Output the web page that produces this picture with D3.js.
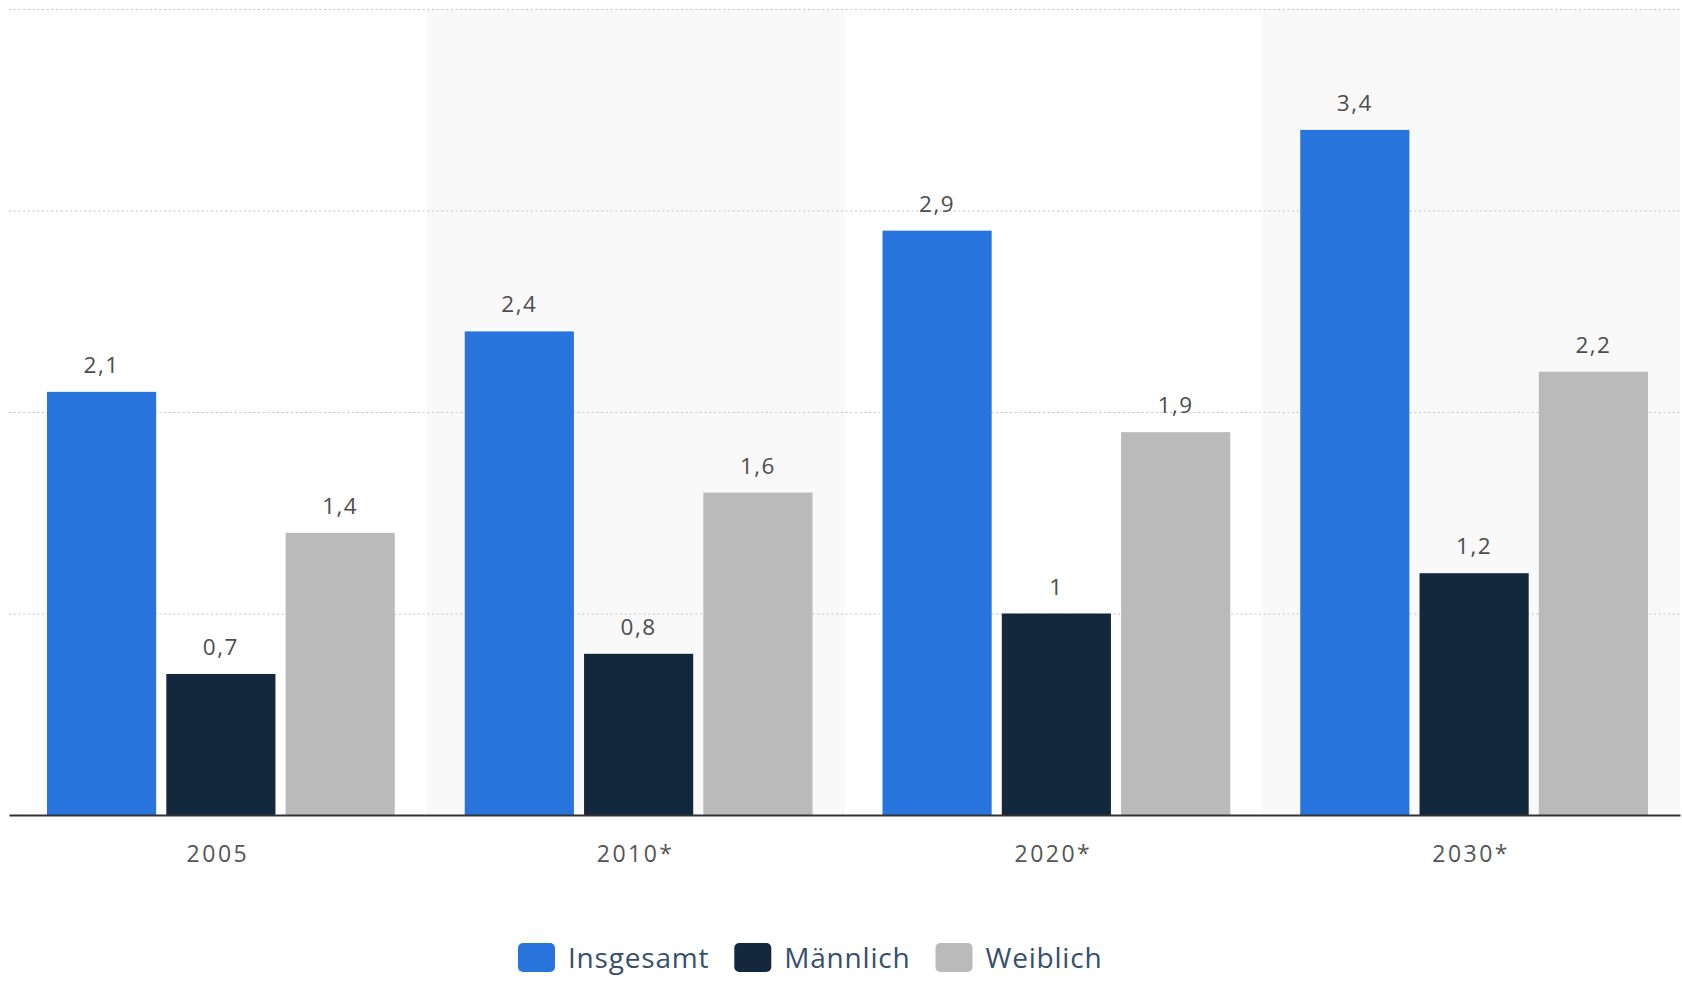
<!DOCTYPE html>
<html>
<head>
<meta charset="utf-8">
<script src="https://cdn.jsdelivr.net/npm/d3@7"></script>
<style>
  body { margin: 0; background: #fff; }
  svg text { font-family: "Open Sans", sans-serif; }
</style>
</head>
<body>
<div id="chart"></div>
<script>
var years = ["2005", "2010*", "2020*", "2030*"];
var seriesNames = ["Insgesamt", "Männlich", "Weiblich"];
var insgesamt = [2.1, 2.4, 2.9, 3.4];
var maennlich = [0.7, 0.8, 1.0, 1.2];
var weiblich = [1.4, 1.6, 1.9, 2.2];
var yTicks = [0, 1, 2, 3, 4];
var colors = ["#2874dd", "#14283d", "#bababa"];

var width = 1682, height = 981;
var plotLeft = 9, plotRight = 1680, baseY = 815, topY = 9;

var data = years.map(function(yr, i) {
    return { year: yr, values: [insgesamt[i], maennlich[i], weiblich[i]] };
});

var svg = d3.select("#chart")
            .append("svg")
            .attr("width", width)
            .attr("height", height);

var x0 = d3.scaleBand().domain(years).range([plotLeft, plotRight]).padding(0);
var x1 = d3.scaleBand().domain(seriesNames).range([38, x0.bandwidth() - 32]).paddingInner(0.085);
var y = d3.scaleLinear().domain([0, 4]).range([baseY, topY]);

// alternating shaded bands
svg.selectAll(".band")
    .data(years.filter(function(d, i) { return i % 2 == 1; }))
    .enter()
    .append("rect")
    .attr("x", function(d) { return x0(d); })
    .attr("y", y(4))
    .attr("width", x0.bandwidth())
    .attr("height", baseY - y(4))
    .attr("fill", "#f9f9f9");

// dotted gridlines
svg.append("g")
    .attr("transform", "translate(" + plotLeft + ",0)")
    .call(d3.axisLeft(y).tickValues(yTicks.slice(1)).tickSize(-(plotRight - plotLeft)).tickFormat(""))
    .call(function(g) { g.select(".domain").remove(); })
    .selectAll("line")
    .attr("stroke", "#c4c4c4")
    .attr("stroke-width", 1.2)
    .attr("stroke-dasharray", "2,2.7");

var groups = svg.selectAll(".grp")
    .data(data)
    .enter()
    .append("g")
    .attr("transform", function(d) { return "translate(" + x0(d.year) + ",0)"; });

groups.selectAll("rect")
    .data(function(d) { return d.values.map(function(v, i) { return { name: seriesNames[i], value: v, i: i }; }); })
    .enter()
    .append("rect")
    .attr("x", function(d) { return x1(d.name); })
    .attr("y", function(d) { return y(d.value); })
    .attr("width", x1.bandwidth())
    .attr("height", function(d) { return baseY - y(d.value); })
    .attr("fill", function(d) { return colors[d.i]; });

var fmt = function(v) { return String(v).replace(".", ","); };

groups.selectAll(".val")
    .data(function(d) { return d.values.map(function(v, i) { return { name: seriesNames[i], value: v }; }); })
    .enter()
    .append("text")
    .attr("class", "val")
    .attr("x", function(d) { return x1(d.name) + x1.bandwidth() / 2; })
    .attr("y", function(d) { return y(d.value) - 19; })
    .attr("text-anchor", "middle")
    .attr("font-size", "22.5px")
    .attr("letter-spacing", "1.5px")
    .attr("fill", "#4d4d4d")
    .text(function(d) { return fmt(d.value); });

// x axis with baseline
var xAxis = svg.append("g")
    .attr("transform", "translate(0," + baseY + ")")
    .call(d3.axisBottom(x0).tickSize(0).tickPadding(31));
xAxis.select(".domain")
    .attr("stroke", "#333")
    .attr("stroke-width", 2);
xAxis.selectAll("text")
    .attr("font-size", "23px")
    .attr("letter-spacing", "2.5px")
    .attr("fill", "#555")
    .attr("font-family", "Open Sans, sans-serif");

// legend
var legend = svg.append("g");
var lx = 518;
seriesNames.forEach(function(name, i) {
    legend.append("rect")
        .attr("x", lx)
        .attr("y", 943)
        .attr("width", 37)
        .attr("height", 29)
        .attr("rx", 5)
        .attr("fill", colors[i]);
    var t = legend.append("text")
        .attr("x", lx + 50)
        .attr("y", 968)
        .attr("font-size", "28px")
        .attr("letter-spacing", "0.8px")
        .attr("fill", "#37506e")
        .text(name);
    lx += 50 + t.node().getComputedTextLength() + 25;
});
</script>
</body>
</html>
